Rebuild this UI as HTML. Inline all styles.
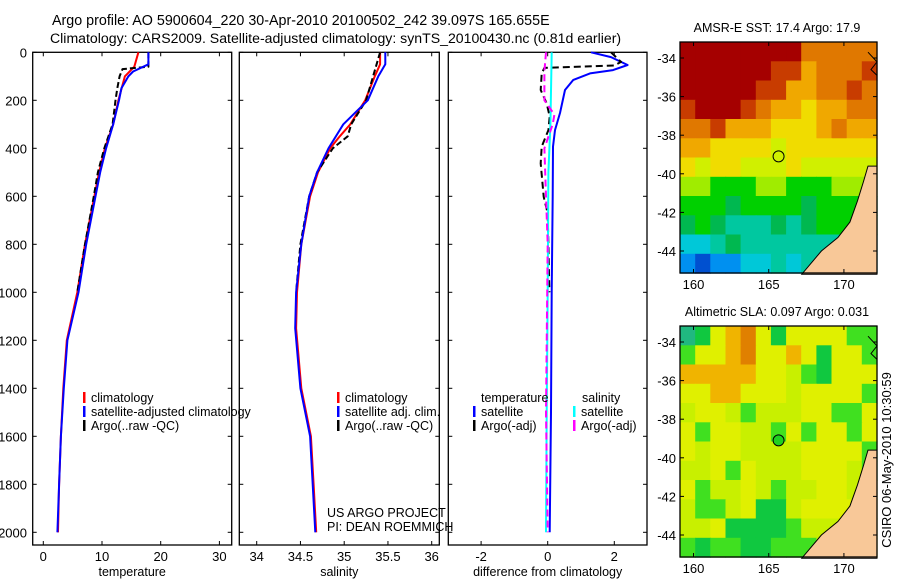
<!DOCTYPE html>
<html><head><meta charset="utf-8"><style>
html,body{margin:0;padding:0;background:#fff;}
svg{display:block;font-family:"Liberation Sans",sans-serif;}
</style></head><body>
<svg id="fig" width="900" height="580" viewBox="0 0 900 580" xmlns="http://www.w3.org/2000/svg">
<text x="52" y="25" font-size="14.3">Argo profile: AO 5900604_220 30-Apr-2010 20100502_242 39.097S 165.655E</text>
<text x="50" y="43" font-size="14.1">Climatology: CARS2009. Satellite-adjusted climatology: synTS_20100430.nc (0.81d earlier)</text>
<g id="plots"></g>
<text transform="translate(891,460) rotate(-90)" text-anchor="middle" font-size="13">CSIRO 06-May-2010 10:30:59</text>
</svg>
<script>
// ---- data ----
const depthTicks=[0,200,400,600,800,1000,1200,1400,1600,1800,2000];
const tClimD=[0,60,100,200,300,400,500,600,800,1000,1200,1400,1600,1800,2000];
const tClimV=[16.2,15.5,13.9,12.8,11.9,10.5,9.5,8.7,7.1,5.8,4.0,3.4,3.0,2.7,2.5];
const tArgoD=[0,60,70,100,150,200,300,400,500,600,800,1000];
const tArgoV=[17.9,17.9,13.5,13.0,12.6,12.3,11.8,10.4,9.3,8.6,7.1,5.8];
const tSatD=[0,50,80,100,150,200,300,400,500,600,800,1000,1200,1400,1600,1800,2000];
const tSatV=[17.9,17.9,15.3,14.5,13.3,12.9,11.9,10.7,9.7,8.9,7.3,6.0,4.1,3.5,3.0,2.7,2.4];
const sClimD=[0,50,100,200,300,350,400,500,600,800,1000,1150,1400,1600,1800,2000];
const sClimV=[35.41,35.41,35.35,35.24,35.07,34.95,34.84,34.70,34.61,34.51,34.46,34.45,34.51,34.62,34.65,34.68];
const sSatD=[0,50,100,200,300,400,500,600,800,1000,1150,1400,1600,1800,2000];
const sSatV=[35.47,35.47,35.39,35.27,34.99,34.82,34.69,34.60,34.51,34.45,34.44,34.50,34.61,34.64,34.67];
const sArgoD=[0,100,200,300,350,400,500,600,800,1000];
const sArgoV=[35.41,35.33,35.25,35.08,35.04,34.87,34.69,34.60,34.50,34.45];
const dTSatD=[0,20,53,74,88,115,157,253,324,393,600,1000,1500,2000];
const dTSatV=[1.3,1.9,2.4,1.96,1.27,0.77,0.52,0.37,0.22,0.16,0.15,0.12,0.1,0.06];
const dTArgoD=[0,40,55,65,88,157,213,268,324,393,463,602,671,1000];
const dTArgoV=[1.9,2.2,2.0,-0.1,-0.18,-0.21,-0.03,0.06,0.02,-0.18,-0.21,-0.12,0.0,0.05];
const dSSatD=[0,300,500,1000,1500,2000];
const dSSatV=[0.12,0.08,0.02,0.0,-0.03,-0.05];
const dSArgoD=[0,80,200,260,300,400,600,800,1500,2000];
const dSArgoV=[-0.05,-0.1,-0.1,0.2,0.15,-0.1,-0.05,0.0,-0.05,0.0];
const tempTicks=[0,10,20,30];
const salTicks=[34,34.5,35,35.5,36];
const diffTicks=[-2,0,2];
const latTicks=[-34,-36,-38,-40,-42,-44];
const lonTicks=[160,165,170];
const sstGrid=["DDDDDDDDooooo","DDDDDDddOoood","DDDDDddOOoodo","dDDDdoOOyOOoo","oodOOOyyyOoOO","OOyyyyYyyyyyy","yYyyYYYyYYYYY","llgggllgggllll","gggGggggGgggg","GgGtttGtGgggg","cctGtttttttt t","bBbbcctcttttt"];
const slaGrid=["tGyOoyGyyyygg","gyyOoyyOyGyyg","OOOOOyyYgGyyy","yyOOyyyYyyyyg","YyyYgYYYyyggy","ygyyYYgygyygy","yYyyYYYYyyyyg","YYygyYYYyyyYg","ygYYyYgYYyyYY","YggYyGGYyyyyY","YYyGGGGgYYYyY","gGggGGgggYYYY"];
const sstPal={D:"#a50000",d:"#c83c00",o:"#e07800",O:"#f0a800",y:"#f0dc00",Y:"#d0f000",l:"#a0ec00",g:"#00d000",G:"#00b850",t:"#00c8a0",c:"#00c8d8",b:"#0090f0",B:"#0050d0"};
const slaPal={Y:"#c8f000",y:"#e0f000",g:"#40e020",G:"#10c840",O:"#f0b400",o:"#e08000",t:"#20b880"};

const NS="http://www.w3.org/2000/svg";
const root=document.getElementById('plots');
function mk(tag,attrs,parent){const e=document.createElementNS(NS,tag);for(const k in attrs)e.setAttribute(k,attrs[k]);(parent||root).appendChild(e);return e;}
function txt(x,y,s,size,anchor,parent){const e=mk('text',{x:x,y:y,'font-size':size,'text-anchor':anchor||'start'},parent);e.textContent=s;return e;}

const Y0=52.3, YS=0.24;
const yD=d=>Y0+d*YS;
const panels=[
 {l:32.7,r:231.7,x0:43.3,xs:5.87,ticks:tempTicks,lab:"temperature",name:"temperature"},
 {l:239.3,r:439.3,x0:256.7,xs:87.5,ticks:salTicks,lab:"salinity",name:"salinity",ref:34},
 {l:448.3,r:647,x0:547.7,xs:33.3,ticks:diffTicks,lab:"difference from climatology",name:"difference"}
];
const B=545;
panels.forEach((p,i)=>{
  const g=mk('g',{});
  
  
  p.g=g;
  p.fx=v=>p.x0+(v-(p.ref||0))*p.xs;
  const fr=mk('rect',{x:p.l,y:Y0,width:p.r-p.l,height:B-Y0,fill:'none',stroke:'#000','stroke-width':1.3},g);
  
  
  depthTicks.forEach(d=>{
    mk('line',{x1:p.l,x2:p.l+4,y1:yD(d),y2:yD(d),stroke:'#000'},g);
    mk('line',{x1:p.r,x2:p.r-4,y1:yD(d),y2:yD(d),stroke:'#000'},g);
    if(i==0){const t=txt(27,yD(d)+5,String(d),13,'end',g);
      
      }
  });
  p.ticks.forEach(v=>{
    const x=p.fx(v);
    mk('line',{x1:x,x2:x,y1:Y0,y2:Y0+4,stroke:'#000'},g);
    mk('line',{x1:x,x2:x,y1:B,y2:B-4,stroke:'#000'},g);
    const t=txt(x,561,String(v),13,'middle',g);
    
    
  });
  const al=txt((p.l+p.r)/2,576,p.lab,12.5,'middle',g);
  
  
});
function series(p,D,V,color,dash,name,w){
  const pts=D.map((d,k)=>p.fx(V[k]).toFixed(1)+','+yD(d).toFixed(1)).join(' ');
  const e=mk('polyline',{points:pts,fill:'none',stroke:color,'stroke-width':w||2,'stroke-dasharray':dash||'none','stroke-linejoin':'round'},p.g);
  
  
}
const [P1,P2,P3]=panels;
series(P1,tClimD,tClimV,'#f00','', 'temp-climatology-line');
series(P1,tArgoD,tArgoV,'#000','6 3','temp-argo-line');
series(P1,tSatD,tSatV,'#00f','','temp-satellite-line');
series(P2,sClimD,sClimV,'#f00','','sal-climatology-line');
series(P2,sArgoD,sArgoV,'#000','6 3','sal-argo-line');
series(P2,sSatD,sSatV,'#00f','','sal-satellite-line');
series(P3,dTSatD,dTSatV,'#00f','','diff-temp-satellite-line');
series(P3,dTArgoD,dTArgoV,'#000','7 4','diff-temp-argo-line');
series(P3,dSSatD,dSSatV,'#0ff','','diff-sal-satellite-line');
series(P3,dSArgoD,dSArgoV,'#f0f','7 4','diff-sal-argo-line');

function legend(parent,x,y,color,label,name){
  const g=mk('g',{},parent);
  
  
  mk('rect',{x:x,y:y-10,width:2.5,height:11,fill:color},g);
  txt(x+8,y,label,12.5,'start',g);
}
legend(P1.g,83,402,'#f00','climatology','legend-entry-climatology');
legend(P1.g,83,416,'#00f','satellite-adjusted climatology','legend-entry-satellite');
legend(P1.g,83,430,'#000','Argo(..raw -QC)','legend-entry-argo');
legend(P2.g,337,402,'#f00','climatology','legend-entry-climatology');
legend(P2.g,337,416,'#00f','satellite adj. clim.','legend-entry-satellite');
legend(P2.g,337,430,'#000','Argo(..raw -QC)','legend-entry-argo');
let t=txt(327,517,'US ARGO PROJECT',12.5,'start',P2.g);


t=txt(327,531,'PI: DEAN ROEMMICH',12.5,'start',P2.g);


t=txt(481,402,'temperature',12.5,'start',P3.g);


t=txt(582,402,'salinity',12.5,'start',P3.g);


legend(P3.g,473,416,'#00f','satellite','legend-entry-temp-satellite');
legend(P3.g,473,430,'#000','Argo(-adj)','legend-entry-temp-argo');
legend(P3.g,573,416,'#0ff','satellite','legend-entry-sal-satellite');
legend(P3.g,573,430,'#f0f','Argo(-adj)','legend-entry-sal-argo');

// ---- maps ----
function map(top,bot,lat34,lat44,grid,pal,title,name,filled){
  const L=680,R=877,lonA=159.1,lonB=172.2;
  const fx=lon=>L+(lon-lonA)/(lonB-lonA)*(R-L);
  const ys=(lat44-lat34)/-10;
  const fy=lat=>lat34+(lat-(-34))*ys;
  const g=mk('g',{});
  
  
  const rows=grid.length, cols=13;
  const cw=(R-L)/cols, rh=(bot-top)/rows;
  grid.forEach((row,r)=>{
    const s=row.replace(/ /g,'');
    for(let c=0;c<cols;c++){
      const ch=s[c]||s[s.length-1];
      mk('rect',{x:(L+c*cw).toFixed(1),y:(top+r*rh).toFixed(1),width:(cw+0.6).toFixed(1),height:(rh+0.6).toFixed(1),fill:pal[ch]||'#ccc'},g);
    }
  });
  const land=[[172.2,-39.6],[171.6,-39.6],[171.3,-40.4],[170.9,-41.4],[170.4,-42.5],[169.6,-43.3],[168.5,-44.0],[167.2,-45.2],[172.2,-45.2]];
  const lp=mk('polygon',{points:land.map(q=>fx(q[0]).toFixed(1)+','+fy(q[1]).toFixed(1)).join(' '),fill:'#f8c898',stroke:'#000','stroke-width':1},g);
  
  
  mk('polyline',{points:[[171.6,-33.7],[172.2,-34.2],[171.8,-34.6],[172.2,-34.9]].map(q=>fx(q[0]).toFixed(1)+','+fy(q[1]).toFixed(1)).join(' '),fill:'none',stroke:'#000'},g);
  mk('rect',{x:L,y:top,width:R-L,height:bot-top,fill:'none',stroke:'#000','stroke-width':1.3},g);
  latTicks.forEach(v=>{
    const y=fy(v);
    mk('line',{x1:L,x2:L+4,y1:y,y2:y,stroke:'#000'},g);
    mk('line',{x1:R,x2:R-4,y1:y,y2:y,stroke:'#000'},g);
    const t=txt(L-4,y+5,String(v),13,'end',g);
    
    
  });
  lonTicks.forEach(v=>{
    const x=fx(v);
    mk('line',{x1:x,x2:x,y1:top,y2:top+4,stroke:'#000'},g);
    mk('line',{x1:x,x2:x,y1:bot,y2:bot-4,stroke:'#000'},g);
    const t=txt(x,bot+16,String(v),13,'middle',g);
    
    
  });
  const c=mk('circle',{cx:fx(165.655),cy:fy(-39.097),r:5.5,fill:filled?'#20d020':'none',stroke:'#000','stroke-width':1},g);
  
  
  const tt=txt(777,top-10,title,12.5,'middle',g);
  
  
}
map(42,273,58,251,sstGrid,sstPal,'AMSR-E SST: 17.4 Argo: 17.9','sst-map',false);
map(326,557,342,535,slaGrid,slaPal,'Altimetric SLA: 0.097 Argo: 0.031','sla-map',true);
</script>
</body></html>
